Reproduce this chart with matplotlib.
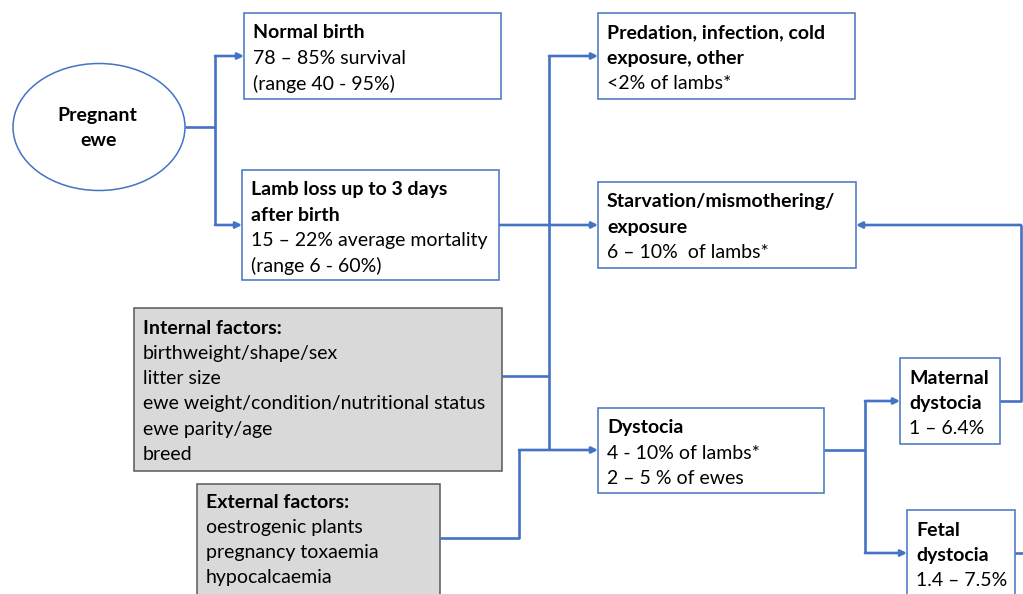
import matplotlib.pyplot as plt
from matplotlib.patches import Rectangle, Ellipse, FancyArrowPatch

plt.rcParams['font.family'] = ['Lato', 'DejaVu Sans']

BLUE = "#4472C4"
FS = 14

# box texts: (bold lines, normal lines)
start_text = ["Pregnant", "ewe"]
normal_bold = ["Normal birth"]
normal_lines = ["78 – 85% survival", "(range 40 - 95%)"]
loss_bold = ["Lamb loss up to 3 days", "after birth"]
loss_lines = ["15 – 22% average mortality", "(range 6 - 60%)"]
pred_bold = ["Predation, infection, cold", "exposure, other"]
pred_lines = ["<2% of lambs*"]
starv_bold = ["Starvation/mismothering/", "exposure"]
starv_lines = ["6 – 10%  of lambs*"]
dyst_bold = ["Dystocia"]
dyst_lines = ["4 - 10% of lambs*", "2 – 5 % of ewes"]
mat_bold = ["Maternal", "dystocia"]
mat_lines = ["1 – 6.4%"]
fet_bold = ["Fetal", "dystocia"]
fet_lines = ["1.4 – 7.5%"]
int_bold = ["Internal factors:"]
int_lines = ["birthweight/shape/sex", "litter size",
             "ewe weight/condition/nutritional status", "ewe parity/age", "breed"]
ext_bold = ["External factors:"]
ext_lines = ["oestrogenic plants", "pregnancy toxaemia", "hypocalcaemia"]

fig = plt.figure(figsize=(10.23, 5.94), dpi=100)
ax = fig.add_axes([0, 0, 1, 1])
ax.set_xlim(0, 1023)
ax.set_ylim(594, 0)
ax.axis("off")


def box(x0, y0, x1, y1, bold, lines, face="white", edge=BLUE, lw=1.1, ty=None):
    ax.add_patch(Rectangle((x0, y0), x1 - x0, y1 - y0, facecolor=face,
                           edgecolor=edge, lw=lw, zorder=3))
    y = ty if ty is not None else y0 + 20
    for s in bold:
        ax.text(x0 + 9, y, s, fontsize=FS, fontweight="bold", va="center", zorder=4)
        y += 25.3
    for s in lines:
        ax.text(x0 + 9, y, s, fontsize=FS, va="center", zorder=4)
        y += 25.3


def line(xs, ys):
    ax.plot(xs, ys, color=BLUE, lw=1.9, solid_capstyle="butt", zorder=2)


def arrow(x0, y, x1):
    ax.add_patch(FancyArrowPatch((x0, y), (x1, y), arrowstyle="-|>",
                                 mutation_scale=9, color=BLUE, lw=1.9,
                                 shrinkA=0, shrinkB=0, zorder=2))


# start ellipse
ax.add_patch(Ellipse((99, 127), 172, 127, facecolor="white", edgecolor=BLUE,
                     lw=1.1, zorder=3))
ax.text(97, 116, start_text[0], fontsize=FS, fontweight="bold", ha="center", va="center", zorder=4)
ax.text(99, 141, start_text[1], fontsize=FS, fontweight="bold", ha="center", va="center", zorder=4)

box(244, 13, 501, 99, normal_bold, normal_lines)
box(242, 170, 499, 280, loss_bold, loss_lines)
box(598, 13, 855, 99, pred_bold, pred_lines)
box(598, 182, 856, 268, starv_bold, starv_lines)
box(598, 408, 824, 493, dyst_bold, dyst_lines)
box(900, 358, 1000, 444, mat_bold, mat_lines)
box(907, 510, 1015, 604, fet_bold, fet_lines)
box(134, 308, 502, 471, int_bold, int_lines, face="#d9d9d9", edge="#595959", lw=1.1)
box(197, 484, 440, 604, ext_bold, ext_lines, face="#d9d9d9", edge="#595959", lw=1.1, ty=502)

# connectors
line([185, 215], [127, 127])
line([215, 215], [56, 225])
arrow(215, 56, 244)
arrow(215, 225, 242)

arrow(499, 225, 598)
line([549, 549], [56, 450])
arrow(549, 56, 598)
line([502, 549], [376, 376])
line([440, 519, 519], [538, 538, 450])
arrow(519, 450, 598)

line([824, 865], [450, 450])
line([865, 865], [401, 553])
arrow(865, 401, 900)
arrow(865, 553, 907)

line([1000, 1021, 1021], [401, 401, 225])
arrow(1021, 225, 856)
line([1015, 1023], [553, 553])

fig.savefig("out.png", dpi=100)
